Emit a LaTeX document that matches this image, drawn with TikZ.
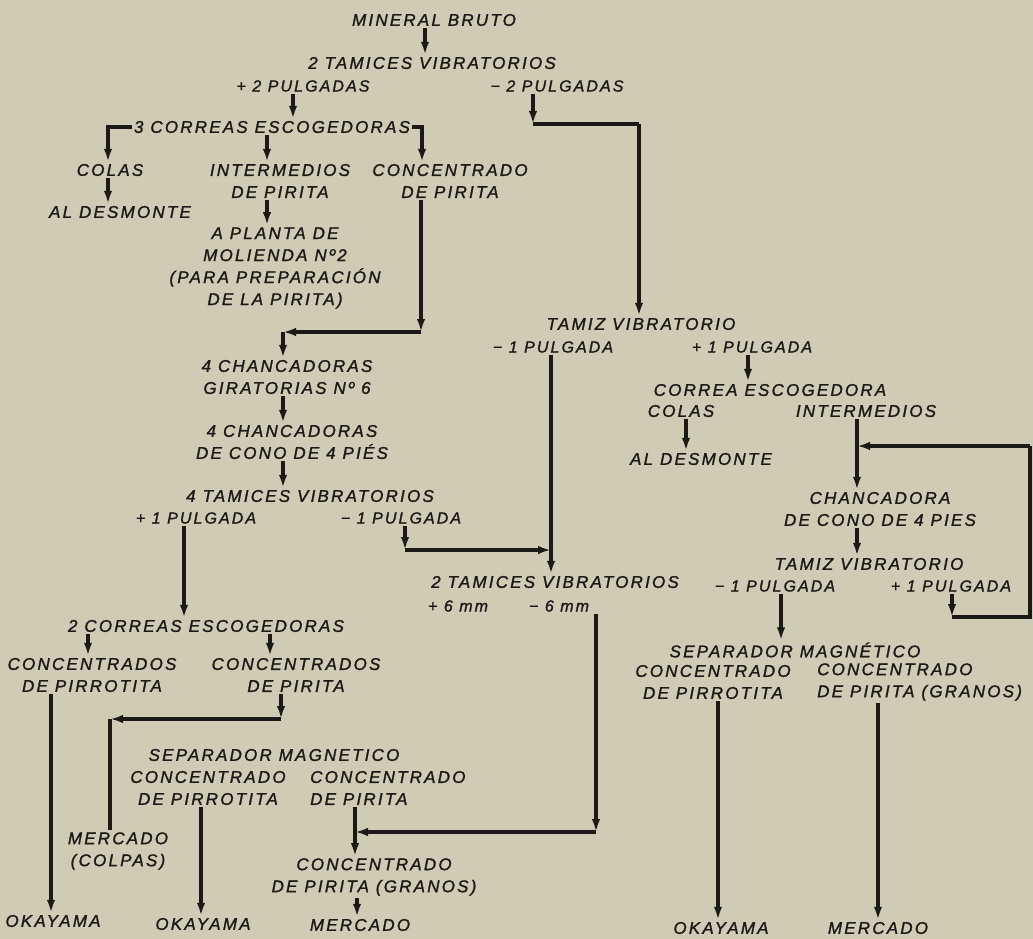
\documentclass[tikz,border=0pt]{standalone}
\usepackage{fontspec}
\newfontfamily\hand[LetterSpace=13, FakeBold=1.4]{Liberation Sans}
\usetikzlibrary{arrows.meta}
\definecolor{papel}{RGB}{207,203,181}
\definecolor{tinta}{RGB}{28,26,22}
\tikzset{
  rotulo/.style={font=\hand\itshape\fontsize{17}{22}\selectfont, text=tinta, inner sep=2pt, align=center},
  rotulochico/.style={rotulo, font=\hand\itshape\fontsize{16}{20}\selectfont},
  flecha/.style={draw=tinta, line width=3.1pt, -{Latex[length=13pt,width=8.5pt]}},
  linea/.style={draw=tinta, line width=3.1pt},
}

\begin{document}
\begin{tikzpicture}[x=1pt,y=-1pt]
\fill[papel] (0,0) rectangle (1033,939);
\useasboundingbox (0,0) rectangle (1033,939);

% Cabecera
\node[rotulo] (bruto) at (434,20) {MINERAL BRUTO};
\node[rotulo] (tamA) at (432,63) {2 TAMICES VIBRATORIOS};
\node[rotulochico] (masA) at (303,86) {+ 2 PULGADAS};
\node[rotulochico] (menA) at (557,86) {− 2 PULGADAS};

% Rama + 2 pulgadas
\node[rotulo] (corrA) at (272,127) {3 CORREAS ESCOGEDORAS};
\node[rotulo] (colasA) at (110,170) {COLAS};
\node[rotulo] (desmA) at (120,212) {AL DESMONTE};
\node[rotulo] (interA) at (280,181) {INTERMEDIOS\\DE PIRITA};
\node[rotulo] (concA) at (450,181) {CONCENTRADO\\DE PIRITA};
\node[rotulo] (planta) at (275,268) {A PLANTA DE\\MOLIENDA Nº2\\(PARA PREPARACIÓN\\DE LA PIRITA)};
\node[rotulo] (chanA) at (287,377) {4 CHANCADORAS\\GIRATORIAS Nº 6};
\node[rotulo] (chanB) at (292,442) {4 CHANCADORAS\\DE CONO DE 4 PIÉS};
\node[rotulo] (tamC) at (310,496) {4 TAMICES VIBRATORIOS};
\node[rotulochico] (masC) at (196,518) {+ 1 PULGADA};
\node[rotulochico] (menC) at (401,518) {− 1 PULGADA};
\node[rotulo] (corrB) at (206,626) {2 CORREAS ESCOGEDORAS};
\node[rotulo] (cpirro) at (92,675) {CONCENTRADOS\\DE PIRROTITA};
\node[rotulo] (cpiri) at (296,675) {CONCENTRADOS\\DE PIRITA};
\node[rotulo] (colpas) at (118,851) {MERCADO\\(COLPAS)};
\node[rotulo] (okaA) at (53,921) {OKAYAMA};
\node[rotulo] (sepL) at (274,755) {SEPARADOR MAGNETICO};
\node[rotulo] (spLpirro) at (208,788) {CONCENTRADO\\DE PIRROTITA};
\node[rotulo, anchor=west, align=left] (spLpiri) at (308,788) {CONCENTRADO\\DE PIRITA};
\node[rotulo] (okaB) at (203,924) {OKAYAMA};
\node[rotulo] (granos) at (374,877) {CONCENTRADO\\DE PIRITA (GRANOS)};
\node[rotulo] (mercL) at (360,925) {MERCADO};

% Rama - 2 pulgadas
\node[rotulo] (tamR) at (641,324) {TAMIZ VIBRATORIO};
\node[rotulochico] (menR) at (553,347) {− 1 PULGADA};
\node[rotulochico] (masR) at (752,347) {+ 1 PULGADA};
\node[rotulo] (correa) at (770,390) {CORREA ESCOGEDORA};
\node[rotulo] (colasR) at (681,411) {COLAS};
\node[rotulo] (interR) at (866,411) {INTERMEDIOS};
\node[rotulo] (desmR) at (701,459) {AL DESMONTE};
\node[rotulo] (chanR) at (880,509) {CHANCADORA\\DE CONO DE 4 PIES};
\node[rotulo] (tamR2) at (869,564) {TAMIZ VIBRATORIO};
\node[rotulochico] (menR2) at (775,586) {− 1 PULGADA};
\node[rotulochico] (masR2) at (951,586) {+ 1 PULGADA};
\node[rotulo] (tamB) at (555,582) {2 TAMICES VIBRATORIOS};
\node[rotulochico] (mas6) at (458,606) {+ 6 mm};
\node[rotulochico] (men6) at (559,606) {− 6 mm};
\node[rotulo] (sepR) at (795,650) {SEPARADOR MAGNÉTICO};
\node[rotulo] (spRpirro) at (713,682) {CONCENTRADO\\DE PIRROTITA};
\node[rotulo, anchor=west, align=left] (spRpiri) at (815,682) {CONCENTRADO\\DE PIRITA (GRANOS)};
\node[rotulo] (okaR) at (721,928) {OKAYAMA};
\node[rotulo] (mercR) at (878,928) {MERCADO};

% Esquinas
\coordinate (k1) at (421,332);
\coordinate (k2) at (283,332);
\coordinate (k3) at (405,550);
\coordinate (k4) at (551,550);
\coordinate (k5) at (533,124);
\coordinate (k6) at (639,124);
\coordinate (k7) at (857,446);
\coordinate (k8) at (952,617);
\coordinate (k9) at (1030,617);
\coordinate (k10) at (1030,446);
\coordinate (k11) at (596,832);
\coordinate (k12) at (355,832);
\coordinate (k13) at (281,719);
\coordinate (k14) at (110,719);

% Flechas, parte alta
\draw[flecha] ([xshift=-9pt]bruto.south) -- ([xshift=-9pt]bruto.south |- tamA.north);
\draw[flecha] ([xshift=-10pt]masA.south) -- ([xshift=-10pt]masA.south |- corrA.north);
\draw[flecha] (corrA.west) -| ([xshift=-2pt]colasA.north);
\draw[flecha] (corrA.east) -| ([xshift=-28pt]concA.north);
\draw[flecha] ([xshift=-5pt]corrA.south) -- ([xshift=-5pt]corrA.south |- interA.north);
\draw[flecha] ([xshift=-2pt]colasA.south) -- ([xshift=-2pt]colasA.south |- desmA.north);
\draw[flecha] ([xshift=-13pt]interA.south) -- ([xshift=-13pt]interA.south |- planta.north);
\draw[flecha] (concA.south -| k1) -- (k1);
\draw[flecha] (k1) -- (k2);
\draw[flecha] (k2) -- (k2 |- chanA.north);
\draw[flecha] (k2 |- chanA.south) -- (k2 |- chanB.north);
\draw[flecha] (k2 |- chanB.south) -- (k2 |- tamC.north);
\draw[flecha] ([xshift=-12pt]masC.south) -- ([xshift=-12pt]masC.south |- corrB.north);
\draw[flecha] (menC.south -| k3) -- (k3);
\draw[flecha] (k3) -- (k4);
\draw[flecha] (menR.south -| k4) -- (k4 |- tamB.north);
\draw[flecha] (menA.south -| k5) -- (k5);
\draw[linea] (k5) -- (k6);
\draw[flecha] (k6) -- (k6 |- tamR.north);

% Flechas, lado derecho
\draw[flecha] ([xshift=-4pt]masR.south) -- ([xshift=-4pt]masR.south |- correa.north);
\draw[flecha] ([xshift=5pt]colasR.south) -- ([xshift=5pt]colasR.south |- desmR.north);
\draw[flecha] (interR.south -| k7) -- (k7 |- chanR.north);
\draw[flecha] (chanR.south -| k7) -- (k7 |- tamR2.north);
\draw[flecha] (masR2.south -| k8) -- (k8);
\draw[linea] (k8) -- (k9) -- (k10);
\draw[flecha] (k10) -- (k7);
\draw[flecha] ([xshift=6pt]menR2.south) -- ([xshift=6pt]menR2.south |- sepR.north);
\draw[flecha] ([xshift=5pt]spRpirro.south) -- ([xshift=5pt]spRpirro.south |- okaR.north);
\draw[flecha] (spRpiri.south -| mercR) -- (mercR.north);

% Flechas, parte baja
\draw[flecha] (men6.south -| k11) -- (k11);
\draw[flecha] (k11) -- (k12);
\draw[flecha] (spLpiri.south -| k12) -- (k12 |- granos.north);
\draw[flecha] ([xshift=-17pt]granos.south) -- ([xshift=-17pt]granos.south |- mercL.north);
\draw[flecha] ([xshift=-118pt]corrB.south) -- ([xshift=-118pt]corrB.south |- cpirro.north);
\draw[flecha] ([xshift=64pt]corrB.south) -- ([xshift=64pt]corrB.south |- cpiri.north);
\draw[flecha] (cpiri.south -| k13) -- (k13);
\draw[flecha] (k13) -- (k14);
\draw[linea] (k14) -- (k14 |- colpas.north);
\draw[flecha] ([xshift=-41pt]cpirro.south) -- ([xshift=-41pt]cpirro.south |- okaA.north);
\draw[flecha] ([xshift=-7pt]spLpirro.south) -- ([xshift=-7pt]spLpirro.south |- okaB.north);
\end{tikzpicture}
\end{document}
